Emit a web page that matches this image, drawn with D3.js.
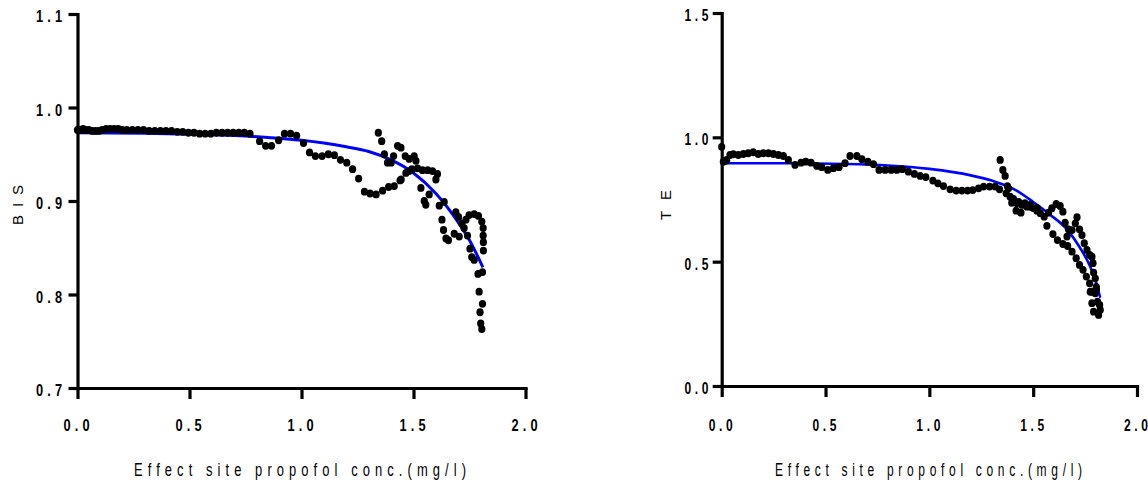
<!DOCTYPE html>
<html>
<head>
<meta charset="utf-8">
<script src="https://cdn.jsdelivr.net/npm/d3@7"></script>
<style>
  html, body { margin: 0; padding: 0; background: #fff; }
  svg { display: block; }
  text { font-family: "Liberation Sans", Arial, sans-serif; fill: #000; }
</style>
</head>
<body>
<svg id="chart" width="1148" height="482"></svg>
<script>
// Effect-site propofol concentration (mg/l) against normalised BIS and TE.

// Axis ticks
const concTicks = [0, 0.5, 1.0, 1.5, 2.0];
const concTickLabels = ["0.0", "0.5", "1.0", "1.5", "2.0"];
const bisTicks = [0.7, 0.8, 0.9, 1.0, 1.1];
const bisTickLabels = ["0.7", "0.8", "0.9", "1.0", "1.1"];
const teTicks = [0.0, 0.5, 1.0, 1.5];
const teTickLabels = ["0.0", "0.5", "1.0", "1.5"];

// BIS observations: [concentration, BIS]
const bisObserved = [
  [0.000,0.976],[0.008,0.976],[0.016,0.976],[0.025,0.977],[0.035,0.976],[0.050,0.976],
  [0.065,0.975],[0.080,0.975],[0.095,0.975],[0.110,0.976],[0.128,0.977],[0.146,0.977],
  [0.164,0.977],[0.182,0.977],[0.200,0.976],[0.220,0.976],[0.245,0.976],[0.270,0.976],
  [0.295,0.976],[0.320,0.975],[0.345,0.975],[0.370,0.975],[0.395,0.975],[0.420,0.975],
  [0.445,0.974],[0.470,0.974],[0.495,0.973],[0.520,0.973],[0.545,0.972],[0.570,0.972],
  [0.595,0.972],[0.620,0.973],[0.645,0.973],[0.670,0.973],[0.695,0.973],[0.720,0.973],
  [0.745,0.973],[0.770,0.972],
  [0.813,0.964],[0.840,0.959],[0.866,0.959],[0.898,0.965],[0.924,0.972],[0.951,0.972],
  [0.978,0.970],[1.009,0.962],[1.036,0.952],[1.062,0.948],[1.092,0.948],[1.120,0.950],
  [1.147,0.949],[1.174,0.944],[1.202,0.941],[1.228,0.934],[1.255,0.924],[1.281,0.910],
  [1.306,0.908],[1.333,0.907],[1.362,0.911],[1.389,0.915],[1.414,0.916],[1.440,0.922],
  [1.466,0.930],
  [1.343,0.973],[1.358,0.964],[1.370,0.950],[1.384,0.941],[1.400,0.941],[1.411,0.948],
  [1.429,0.959],[1.444,0.957],[1.463,0.948],[1.481,0.945],[1.503,0.948],[1.511,0.943],
  [1.493,0.934],[1.518,0.935],[1.540,0.933],[1.563,0.933],[1.585,0.932],[1.607,0.929],
  [1.600,0.923],[1.533,0.914],[1.570,0.907],[1.548,0.900],[1.555,0.896],[1.615,0.895],
  [1.637,0.899],[1.627,0.880],[1.634,0.869],[1.645,0.860],[1.656,0.858],[1.682,0.865],
  [1.704,0.862],[1.689,0.888],[1.701,0.883],[1.716,0.876],[1.726,0.871],[1.741,0.863],
  [1.752,0.849],[1.760,0.840],[1.771,0.837],[1.788,0.822],[1.808,0.824],[1.734,0.880],
  [1.748,0.885],[1.771,0.886],[1.790,0.884],[1.805,0.878],[1.811,0.871],[1.811,0.863],
  [1.812,0.856],[1.812,0.847],[1.793,0.803],[1.808,0.790],[1.797,0.781],[1.800,0.769],
  [1.805,0.763],[1.481,0.932],[1.445,0.923]
];

// Fitted BIS curve
const bisFit = [
  [0.00,0.973],[0.30,0.9725],[0.50,0.9715],[0.70,0.970],[0.85,0.968],[1.00,0.965],
  [1.10,0.962],[1.20,0.958],[1.30,0.953],[1.40,0.944],[1.50,0.930],[1.60,0.908],
  [1.70,0.877],[1.75,0.858],[1.81,0.829]
];

// TE observations: [concentration, TE]
const teObserved = [
  [0.000,0.962],[0.008,0.902],[0.016,0.905],[0.024,0.909],[0.040,0.929],[0.056,0.932],
  [0.080,0.929],[0.104,0.933],[0.128,0.936],[0.152,0.940],[0.176,0.933],[0.200,0.936],
  [0.225,0.936],[0.249,0.933],[0.273,0.929],[0.297,0.925],[0.321,0.909],[0.353,0.889],
  [0.382,0.898],[0.405,0.902],[0.430,0.898],[0.458,0.885],[0.482,0.880],[0.511,0.869],
  [0.538,0.876],[0.565,0.880],[0.594,0.896],[0.618,0.925],[0.651,0.925],[0.675,0.912],
  [0.704,0.902],[0.731,0.892],[0.758,0.869],[0.787,0.869],[0.816,0.869],[0.843,0.869],
  [0.870,0.872],[0.899,0.862],[0.928,0.853],[0.956,0.845],[0.983,0.840],[1.017,0.826],
  [1.041,0.815],[1.068,0.804],[1.100,0.791],[1.129,0.786],[1.157,0.786],[1.184,0.786],
  [1.209,0.788],[1.237,0.795],[1.261,0.802],[1.290,0.802],[1.317,0.802],[1.338,0.791],
  [1.341,0.909],[1.354,0.869],[1.365,0.845],[1.376,0.804],[1.370,0.775],[1.389,0.761],
  [1.397,0.737],[1.418,0.705],[1.441,0.697],[1.421,0.735],[1.446,0.728],[1.470,0.721],
  [1.486,0.728],[1.502,0.715],[1.518,0.705],[1.534,0.695],[1.553,0.681],[1.574,0.697],
  [1.590,0.715],[1.611,0.732],[1.630,0.724],[1.643,0.701],[1.566,0.644],[1.595,0.611],
  [1.617,0.587],[1.643,0.571],[1.666,0.563],[1.687,0.540],[1.707,0.514],[1.723,0.487],
  [1.740,0.467],[1.756,0.440],[1.772,0.413],[1.783,0.379],[1.654,0.657],[1.670,0.630],
  [1.663,0.601],[1.687,0.627],[1.703,0.654],[1.711,0.679],[1.723,0.630],[1.735,0.607],
  [1.746,0.574],[1.759,0.547],[1.772,0.527],[1.783,0.520],[1.788,0.494],[1.791,0.456],
  [1.799,0.433],[1.804,0.399],[1.799,0.373],[1.783,0.333],[1.791,0.299],[1.810,0.339],
  [1.820,0.326],[1.815,0.286],[1.804,0.389],[1.775,0.379],[1.823,0.306],
  [1.381,0.795],[1.405,0.752],[1.430,0.740],[1.460,0.735],[1.490,0.720],[1.520,0.715]
];

// Fitted TE curve
const teFit = [
  [0.00,0.896],[0.30,0.896],[0.60,0.893],[0.80,0.887],[1.00,0.873],[1.20,0.847],
  [1.30,0.826],[1.40,0.795],[1.50,0.740],[1.58,0.690],[1.666,0.627],[1.727,0.554],
  [1.775,0.480],[1.80,0.425],[1.823,0.355]
];

const xLabel = "Effect site propofol conc.(mg/l)";

const svg = d3.select("#chart");

function panel(cfg) {
  const x = d3.scaleLinear().domain([0, 2]).range(cfg.xRange);
  const y = d3.scaleLinear().domain(cfg.yDomain).range(cfg.yRange);
  const g = svg.append("g");

  // fitted curve
  g.append("path")
    .datum(cfg.fit)
    .attr("fill", "none")
    .attr("stroke", "#0000ff")
    .attr("stroke-width", cfg.fitWidth)
    .attr("d", d3.line().x(d => x(d[0])).y(d => y(d[1])).curve(d3.curveMonotoneX));

  // observations
  g.append("g").selectAll("ellipse")
    .data(cfg.observed)
    .join("ellipse")
    .attr("cx", d => x(d[0]))
    .attr("cy", d => y(d[1]))
    .attr("rx", 3.6)
    .attr("ry", 3.9)
    .attr("fill", "#000");

  // axes
  const xAxis = g.append("g")
    .attr("transform", `translate(0,${cfg.yRange[0]})`)
    .call(d3.axisBottom(x).tickValues(cfg.xTicks).tickSize(11).tickSizeOuter(0).tickFormat(""));
  const yAxis = g.append("g")
    .attr("transform", `translate(${cfg.xRange[0]},0)`)
    .call(d3.axisLeft(y).tickValues(cfg.yTicks).tickSize(9).tickSizeOuter(0).tickFormat(""));
  [xAxis, yAxis].forEach(a => {
    a.selectAll("path, line").attr("stroke", "#000").attr("stroke-width", 3.2);
    a.select(".domain").attr("stroke-linecap", "square");
  });

  // text with condensed glyphs, spaced out to a given width
  function label(s, left, base, w, size, weight, scale) {
    g.append("text")
      .attr("transform", `translate(${left},${base}) scale(${scale},1)`)
      .attr("font-size", size)
      .attr("font-weight", weight)
      .attr("textLength", w / scale)
      .attr("lengthAdjust", "spacing")
      .text(s);
  }
  const sx = cfg.tickScale;
  cfg.xTicks.forEach((t, i) => {
    label(cfg.xTickLabels[i], x(t) - cfg.tickW / 2 - 1, 431, cfg.tickW, 16, "bold", sx);
  });
  cfg.yTicks.forEach((t, i) => {
    label(cfg.yTickLabels[i], cfg.yLabelRight - cfg.tickW, y(t) + 8, cfg.tickW, 16, "bold", sx);
  });

  // x axis title
  label(xLabel, cfg.titleLeft, 476, cfg.titleW, 18.5, "normal", cfg.titleScale);

  // y axis title
  g.append("text")
    .attr("transform", `translate(${cfg.yTitleX},${cfg.yTitleY}) rotate(-90)`)
    .attr("x", -cfg.yTitleW / 2)
    .attr("font-size", 15)
    .attr("textLength", cfg.yTitleW)
    .attr("lengthAdjust", "spacing")
    .text(cfg.yTitle);
}

panel({
  xRange: [77.5, 525.5], yDomain: [0.7, 1.1], yRange: [388, 14],
  xTicks: concTicks, xTickLabels: concTickLabels,
  yTicks: bisTicks, yTickLabels: bisTickLabels,
  observed: bisObserved, fit: bisFit, fitWidth: 3,
  tickW: 26, tickScale: 0.8, yLabelRight: 62,
  titleLeft: 134, titleW: 332, titleScale: 0.7,
  yTitle: "BIS", yTitleX: 22.5, yTitleY: 205, yTitleW: 40
});

panel({
  xRange: [721.7, 1137], yDomain: [0, 1.5], yRange: [386, 13],
  xTicks: concTicks, xTickLabels: concTickLabels,
  yTicks: teTicks, yTickLabels: teTickLabels,
  observed: teObserved, fit: teFit, fitWidth: 2.6,
  tickW: 24, tickScale: 0.75, yLabelRight: 708.5,
  titleLeft: 775, titleW: 307, titleScale: 0.65,
  yTitle: "TE", yTitleX: 670.5, yTitleY: 205, yTitleW: 30
});
</script>
</body>
</html>
